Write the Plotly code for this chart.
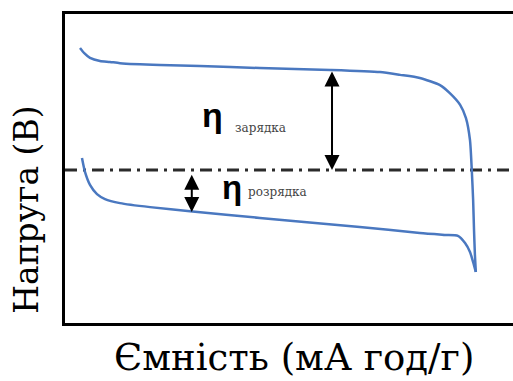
import plotly.graph_objects as go

# Charge / discharge profiles (capacity in relative units, voltage in relative units)
charge_capacity = [3.35, 4.24, 5.58, 7.81, 10.04, 12.28, 21.2, 30.1, 43.5, 59.2, 70.3,
                   74.8, 79.2, 83.7, 85.9, 88.2, 89.5, 90.4, 90.8, 91.1, 91.3, 91.5, 91.7]
charge_voltage = [89.0, 87.4, 85.8, 84.8, 84.5, 84.1, 83.5, 83.2, 82.5, 81.9, 81.2,
                  80.3, 79.3, 77.0, 74.4, 70.6, 66.3, 59.2, 49.5, 39.8, 30.1, 22.0, 16.5]

discharge_capacity = [3.79, 4.46, 5.58, 7.14, 8.93, 12.28, 19.0, 27.9, 43.5, 65.8, 79.2,
                      84.8, 87.7, 89.3, 90.4, 91.1, 91.7]
discharge_voltage = [53.4, 48.9, 44.7, 41.7, 40.1, 38.8, 37.5, 36.2, 34.0, 31.1, 29.1,
                     28.5, 28.2, 25.9, 23.0, 19.7, 16.5]

# Equilibrium potential and overpotential markers
equilibrium_voltage = 49.5
charge_arrow = {"capacity": 59.6, "top": 81.9, "bottom": 49.5}
discharge_arrow = {"capacity": 28.3, "top": 48.5, "bottom": 35.9}

x_title = "Ємність (мА год/г)"
y_title = "Напруга (В)"
eta = "η"
charge_sub = "зарядка"
discharge_sub = "розрядка"

line_blue = "#4a78c0"
serif = "DejaVu Serif"

fig = go.Figure()

fig.add_trace(go.Scatter(
    x=[0, 100], y=[equilibrium_voltage, equilibrium_voltage], mode="lines",
    line=dict(color="#2b2b2b", width=3, dash="12px,6px,3px,6px"), hoverinfo="skip",
))
fig.add_trace(go.Scatter(
    x=charge_capacity, y=charge_voltage, mode="lines",
    line=dict(color=line_blue, width=2.5, shape="spline", smoothing=0.6),
))
fig.add_trace(go.Scatter(
    x=discharge_capacity, y=discharge_voltage, mode="lines",
    line=dict(color=line_blue, width=2.5, shape="spline", smoothing=0.6),
))

annotations = []
for arr in (charge_arrow, discharge_arrow):
    annotations.append(dict(
        x=arr["capacity"], y=arr["bottom"], ax=arr["capacity"], ay=arr["top"],
        xref="x", yref="y", axref="x", ayref="y", text="",
        showarrow=True, arrowhead=2, startarrowhead=2, arrowside="end+start",
        arrowsize=1.5, startarrowsize=1.5, arrowwidth=2, arrowcolor="black",
    ))

# Overpotential labels
annotations += [
    dict(x=33.0, y=67.3, xref="x", yref="y", text=f"<b>{eta}</b>", showarrow=False,
         font=dict(family="Liberation Sans", size=34, color="black")),
    dict(x=43.6, y=63.1, xref="x", yref="y", text=charge_sub, showarrow=False,
         font=dict(family=serif, size=12, color="#444444")),
    dict(x=37.2, y=43.7, xref="x", yref="y", text=f"<b>{eta}</b>", showarrow=False,
         font=dict(family="Liberation Sans", size=33, color="black")),
    dict(x=47.5, y=42.4, xref="x", yref="y", text=discharge_sub, showarrow=False,
         font=dict(family=serif, size=12, color="#444444")),
    # Axis titles
    dict(x=0.512, y=-0.035, xref="paper", yref="paper", xanchor="center", yanchor="top",
         text=x_title, showarrow=False,
         font=dict(family=serif, size=37, color="black")),
    dict(x=-0.085, y=0.366, xref="paper", yref="paper", xanchor="center", yanchor="middle",
         text=y_title, textangle=-90, showarrow=False,
         font=dict(family=serif, size=33, color="black")),
]

fig.update_layout(
    width=513, height=381,
    margin=dict(l=65, r=0, t=14, b=58),
    paper_bgcolor="white", plot_bgcolor="white",
    showlegend=False,
    annotations=annotations,
)
fig.update_xaxes(range=[0, 100], showgrid=False, zeroline=False, showticklabels=False,
                 ticks="", showline=True, linecolor="black", linewidth=3, mirror=True)
fig.update_yaxes(range=[0, 100], showgrid=False, zeroline=False, showticklabels=False,
                 ticks="", showline=True, linecolor="black", linewidth=3)

fig.write_html("out.html")
